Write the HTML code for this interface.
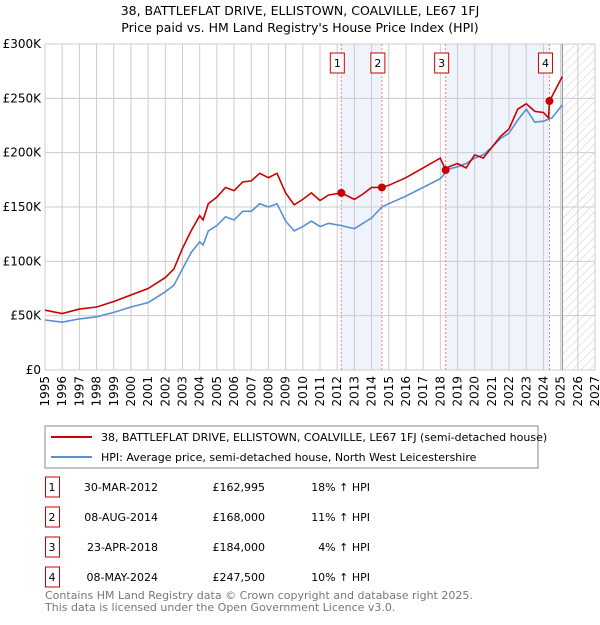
<!DOCTYPE html>
<html><head><meta charset="utf-8"><style>
body{margin:0;background:#fff;font-family:"Liberation Sans","DejaVu Sans",sans-serif;}
svg text{font-family:"DejaVu Sans","Liberation Sans",sans-serif;}
</style></head><body>
<svg id="c" width="600" height="620" xmlns="http://www.w3.org/2000/svg">
<defs><pattern id="hatch" width="6" height="6" patternUnits="userSpaceOnUse" patternTransform="rotate(45)"><line x1="0" y1="0" x2="0" y2="6" stroke="#ccc" stroke-width="1"/></pattern></defs>
<text x="300" y="15" text-anchor="middle" font-size="12.5">38, BATTLEFLAT DRIVE, ELLISTOWN, COALVILLE, LE67 1FJ</text>
<text x="300" y="32" text-anchor="middle" font-size="12.5">Price paid vs. HM Land Registry's House Price Index (HPI)</text>
<g id="plot"></g>
<rect x="45" y="426" width="493" height="42" fill="#fff" stroke="#888"/>
<line x1="51" y1="437" x2="92" y2="437" stroke="#cc0000" stroke-width="2"/>
<text x="101" y="441" font-size="11">38, BATTLEFLAT DRIVE, ELLISTOWN, COALVILLE, LE67 1FJ (semi-detached house)</text>
<line x1="51" y1="457" x2="92" y2="457" stroke="#5b8fd4" stroke-width="2"/>
<text x="101" y="461" font-size="11">HPI: Average price, semi-detached house, North West Leicestershire</text>
<g id="tbl" font-size="11"></g>
<text x="45" y="599" font-size="11" fill="#777">Contains HM Land Registry data © Crown copyright and database right 2025.</text>
<text x="45" y="611" font-size="11" fill="#777">This data is licensed under the Open Government Licence v3.0.</text>
</svg>
<script>
const hpiYears=[1995,1996,1997,1998,1999,2000,2001,2002,2002.5,2003,2003.5,2004,2004.2,2004.5,2005,2005.5,2006,2006.5,2007,2007.5,2008,2008.5,2009,2009.5,2010,2010.5,2011,2011.5,2012.2,2013,2013.5,2014,2014.6,2015,2016,2017,2018,2018.5,2019,2019.5,2020,2020.5,2021,2021.5,2022,2022.5,2023,2023.5,2024,2024.5,2025.1];
const hpiValues=[46,44,47,49,53,58,62,72,78,93,108,118,115,128,133,141,138,146,146,153,150,153,137,128,132,137,132,135,133,130,135,140,150,153,160,168,176,185,187,190,195,198,205,213,218,230,240,228,229,232,244];
const ppYears=[1995,1996,1997,1998,1999,2000,2001,2002,2002.5,2003,2003.5,2004,2004.2,2004.5,2005,2005.5,2006,2006.5,2007,2007.5,2008,2008.5,2009,2009.5,2010,2010.5,2011,2011.5,2012.24,2013,2013.5,2014,2014.6,2015,2016,2017,2018,2018.31,2018.5,2019,2019.5,2020,2020.5,2021,2021.5,2022,2022.5,2023,2023.5,2024,2024.3,2024.35,2025.1];
const ppValues=[55,52,56,58,63,69,75,85,93,112,128,142,138,153,159,168,165,173,174,181,177,181,163,152,157,163,156,161,163,157,162,168,168,170,177,186,195,184,187,190,186,198,195,205,215,222,240,245,238,237,232,247.5,270];
const saleLabels=["1","2","3","4"];
const saleYears=[2012.24,2014.6,2018.31,2024.35];
const saleValues=[162.995,168,184,247.5];
const saleDates=["30-MAR-2012","08-AUG-2014","23-APR-2018","08-MAY-2024"];
const salePrices=["£162,995","£168,000","£184,000","£247,500"];
const saleHpi=["18% \u2191 HPI","11% \u2191 HPI","4% \u2191 HPI","10% \u2191 HPI"];
const yTicks=[0,50,100,150,200,250,300];
const yTickLabels=["£0","£50K","£100K","£150K","£200K","£250K","£300K"];
const xStart=1995,xEnd=2027,futureStart=2025.1;
const L=45,R=595,T=44,B=370;
const X=v=>L+(v-xStart)/(xEnd-xStart)*(R-L);
const Y=v=>B-v/300*(B-T);
const NS="http://www.w3.org/2000/svg";
const plot=document.getElementById('plot');
function mk(tag,attrs,parent){const e=document.createElementNS(NS,tag);for(const k in attrs)e.setAttribute(k,attrs[k]);(parent||plot).appendChild(e);return e;}
// shaded bands
for(let i=0;i<saleYears.length;i+=2){const r=mk('rect',{x:X(saleYears[i]),y:T,width:X(saleYears[i+1])-X(saleYears[i]),height:B-T,fill:'#eef3fc'});

}
// future hatch
const h=mk('rect',{x:X(futureStart),y:T,width:R-X(futureStart),height:B-T,fill:'url(#hatch)'});


// grid
for(let yr=xStart;yr<=xEnd;yr++){const g=mk('line',{x1:X(yr),x2:X(yr),y1:T,y2:B,stroke:'#ccc'});


const t=mk('text',{x:0,y:0,'font-size':12,'text-anchor':'end',transform:`translate(${X(yr)+4},${B+6}) rotate(-90)`});t.textContent=yr;

}
yTicks.forEach((v,i)=>{const g=mk('line',{x1:L,x2:R,y1:Y(v),y2:Y(v),stroke:'#ccc'});


const t=mk('text',{x:L-4,y:Y(v)+4,'font-size':12,'text-anchor':'end'});t.textContent=yTickLabels[i];

});
const fl=mk('line',{x1:X(futureStart),x2:X(futureStart),y1:T,y2:B,stroke:'#888'});


// sale vlines & labels
saleYears.forEach((s,i)=>{const l=mk('line',{x1:X(s),x2:X(s),y1:T,y2:B,stroke:'#f08080','stroke-dasharray':'2,2'});


const bx=X(s)-7-4;const r=mk('rect',{x:bx,y:53,width:14,height:20,fill:'#fff',stroke:'#c00'});


const t=mk('text',{x:bx+7,y:67,'font-size':11,'text-anchor':'middle'});t.textContent=saleLabels[i];

});
// lines
const hp=mk('path',{d:hpiYears.map((y,i)=>(i?'L':'M')+X(y).toFixed(1)+','+Y(hpiValues[i]).toFixed(1)).join(''),fill:'none',stroke:'#5b8fd4','stroke-width':1.6});


const pp=mk('path',{d:ppYears.map((y,i)=>(i?'L':'M')+X(y).toFixed(1)+','+Y(ppValues[i]).toFixed(1)).join(''),fill:'none',stroke:'#cc0000','stroke-width':1.6});


saleYears.forEach((s,i)=>{const c=mk('circle',{cx:X(s),cy:Y(saleValues[i]),r:4,fill:'#cc0000'});

});
// table
const tbl=document.getElementById('tbl');
const rowY=[491,521,551,581];
saleLabels.forEach((lab,i)=>{const y=rowY[i];
const r=mk('rect',{x:45.5,y:y-14,width:14,height:20,fill:'#fff',stroke:'#c00'},tbl);


const vals=[[52,lab,'middle'],[158,saleDates[i],'end'],[265,salePrices[i],'end'],[370,saleHpi[i],'end']];
vals.forEach(([x,s,a])=>{const t=mk('text',{x:x,y:y,'text-anchor':a},tbl);t.textContent=s;

});});
</script>
</body></html>
